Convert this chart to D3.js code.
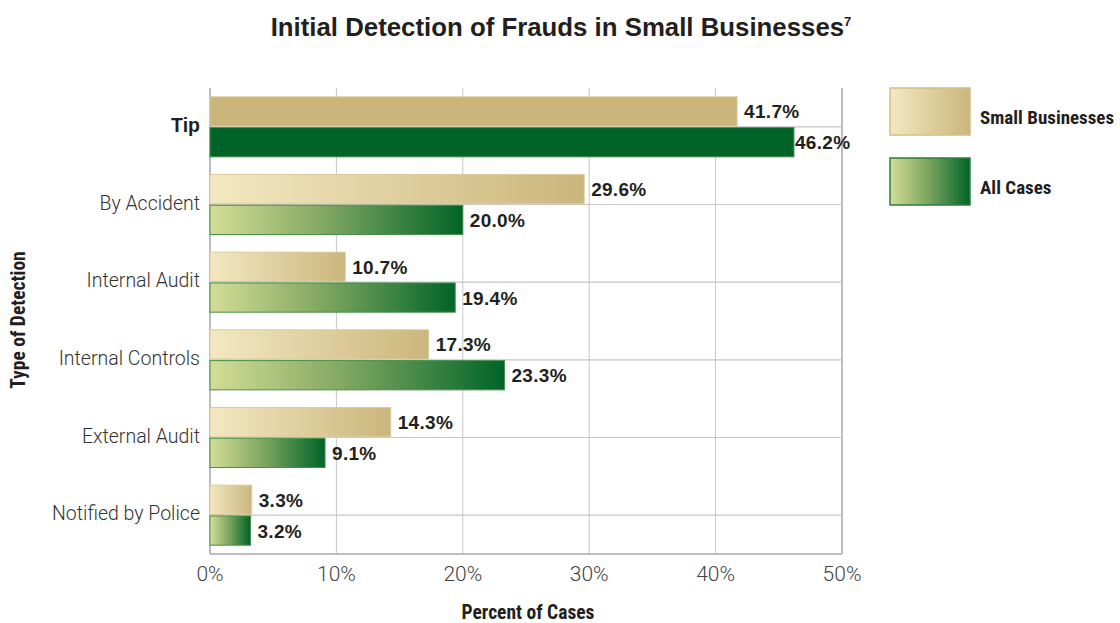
<!DOCTYPE html>
<html><head><meta charset="utf-8">
<script src="https://cdn.jsdelivr.net/npm/d3@7"></script>
<style>
body{margin:0;background:#fff;}
svg{display:block;}
</style></head>
<body><svg id="c" width="1120" height="623"></svg>
<script>
const categories = ["Tip","By Accident","Internal Audit","Internal Controls","External Audit","Notified by Police"];
const smallBusinesses = [41.7,29.6,10.7,17.3,14.3,3.3];
const allCases = [46.2,20.0,19.4,23.3,9.1,3.2];
const seriesNames = ["Small Businesses","All Cases"];
const xTicks = [0,10,20,30,40,50];
const highlight = "Tip";

const svg = d3.select("#c");
const condensed = "'Liberation Sans Narrow','Roboto Condensed','DejaVu Sans Condensed',Arial,sans-serif";
const light = "Roboto, 'Open Sans', Arial, sans-serif";
const bold = "'Liberation Sans', Arial, sans-serif";

const x = d3.scaleLinear().domain([0,50]).range([210,842]);
const y = d3.scaleBand().domain(categories).range([88,554]).paddingInner(0.227).paddingOuter(0.1135);
const ys = d3.scaleBand().domain([0,1]).range([0,y.bandwidth()]).paddingInner(0.05);

const defs = svg.append("defs");
const gTan = defs.append("linearGradient").attr("id","gTan");
gTan.append("stop").attr("offset","0").attr("stop-color","#f3e8c1");
gTan.append("stop").attr("offset","1").attr("stop-color","#cbb67c");
const gGreen = defs.append("linearGradient").attr("id","gGreen");
gGreen.append("stop").attr("offset","0").attr("stop-color","#d4dd96");
gGreen.append("stop").attr("offset","0.45").attr("stop-color","#82a862");
gGreen.append("stop").attr("offset","1").attr("stop-color","#006428");

// title
const t = svg.append("text").attr("x",561).attr("y",36).attr("text-anchor","middle")
  .style("font-family",bold).style("font-weight","bold").style("font-size","25.8px").attr("fill","#231f20");
t.append("tspan").text("Initial Detection of Frauds in Small Businesses");
t.append("tspan").attr("dy",-10).style("font-size","13px").text("7");

// grid
const grid = svg.append("g");
grid.selectAll("line.v").data(xTicks).join("line").attr("class","v")
  .attr("x1",d=>x(d)).attr("x2",d=>x(d)).attr("y1",88).attr("y2",554)
  .attr("stroke",d=>(d===0||d===50)?"#a9a9ab":"#c6c6c8").attr("stroke-width",d=>(d===0||d===50)?1.5:1);
grid.selectAll("line.h").data(categories).join("line").attr("class","h")
  .attr("x1",x(0)).attr("x2",x(50)).attr("y1",d=>y(d)+y.bandwidth()/2).attr("y2",d=>y(d)+y.bandwidth()/2)
  .attr("stroke","#c6c6c8").attr("stroke-width",1.2);
grid.append("line").attr("x1",x(0)).attr("x2",x(50)).attr("y1",554).attr("y2",554)
  .attr("stroke","#a9a9ab").attr("stroke-width",1.5);

// bars
const rows = [];
categories.forEach((c,i)=>{
  rows.push({cat:c,s:0,v:smallBusinesses[i]});
  rows.push({cat:c,s:1,v:allCases[i]});
});
const bars = svg.append("g");
bars.selectAll("rect").data(rows).join("rect")
  .attr("x",x(0)).attr("y",d=>y(d.cat)+ys(d.s)).attr("height",ys.bandwidth())
  .attr("width",d=>x(d.v)-x(0))
  .attr("fill",d=>d.cat===highlight ? (d.s===0?"#c9b479":"#006428") : (d.s===0?"url(#gTan)":"url(#gGreen)"))
  .attr("stroke",d=>d.s===0?"#d9cb9c":"#45904b").attr("stroke-width",1);

svg.append("g").selectAll("text").data(rows).join("text")
  .attr("x",d=>x(d.v)+ (x(d.v)+60>x(50)+10 && d.s===1 ? 1 : 7))
  .attr("y",d=>y(d.cat)+ys(d.s)+ys.bandwidth()/2+7)
  .style("font-family",bold).style("font-weight","bold").style("font-size","19px")
  .style("letter-spacing","0.3px").attr("fill","#231f20")
  .text(d=>d.v.toFixed(1)+"%");

// y axis labels
svg.append("g").selectAll("text").data(categories).join("text")
  .attr("x",200).attr("y",d=>y(d)+y.bandwidth()/2+5).attr("text-anchor","end")
  .style("font-family",d=>d===highlight?bold:light)
  .style("font-weight",d=>d===highlight?"bold":"300")
  .style("font-size",d=>d===highlight?"19.5px":"19.5px").attr("fill",d=>d===highlight?"#231f20":"#333")
  .text(d=>d);

// x axis labels
svg.append("g").selectAll("text").data(xTicks).join("text")
  .attr("x",d=>x(d)).attr("y",581).attr("text-anchor","middle")
  .style("font-family",light).style("font-weight","300").style("font-size","21px").attr("fill","#444")
  .text(d=>d+"%");

// axis titles
svg.append("text").attr("x",528).attr("y",619).attr("text-anchor","middle")
  .style("font-family",condensed).style("font-weight","bold").style("font-size","19.5px").attr("fill","#231f20")
  .text("Percent of Cases");
svg.append("text").attr("transform","translate(25,320) rotate(-90)").attr("text-anchor","middle")
  .style("font-family",condensed).style("font-weight","bold").style("font-size","19.5px").attr("fill","#231f20")
  .text("Type of Detection");

// legend
const lg = svg.append("g");
const legendY = [88,158];
lg.selectAll("rect").data(seriesNames).join("rect")
  .attr("x",890).attr("y",(d,i)=>legendY[i]).attr("width",80).attr("height",47)
  .attr("fill",(d,i)=>i===0?"url(#gTan)":"url(#gGreen)")
  .attr("stroke",(d,i)=>i===0?"#d0bf8a":"#2f7d3c").attr("stroke-width",1.5);
lg.selectAll("text").data(seriesNames).join("text")
  .attr("x",980).attr("y",(d,i)=>legendY[i]+36)
  .style("font-family",condensed).style("font-weight","bold").style("font-size","19px").attr("fill","#231f20")
  .text(d=>d);
</script></body></html>
